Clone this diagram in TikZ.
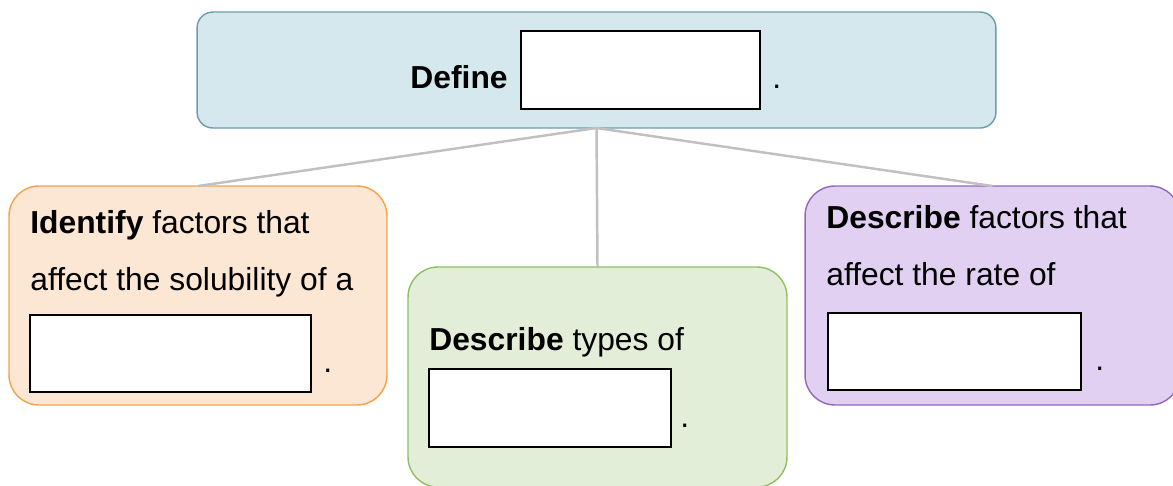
\documentclass[tikz,border=0pt]{standalone}
\usepackage{fontspec}
\setmainfont{Liberation Sans}
\definecolor{bluefill}{HTML}{D4E8EE}
\definecolor{blueline}{HTML}{6A9DAB}
\definecolor{peachfill}{HTML}{FCE6D4}
\definecolor{peachline}{HTML}{F4A14A}
\definecolor{greenfill}{HTML}{E3EED9}
\definecolor{greenline}{HTML}{8DC060}
\definecolor{lilacfill}{HTML}{E1D0F1}
\definecolor{lilacline}{HTML}{9467BD}
\definecolor{linkgray}{HTML}{C0C0C0}
\begin{document}
\begin{tikzpicture}[
    x=0.02cm, y=-0.02cm,
    font=\fontsize{18.1}{21.5}\selectfont
]
	\tikzset{
	    topic/.style = {rectangle, inner sep=0pt, outer sep=0pt, line width=0.8pt},
	    topicb/.style = {topic, rounded corners=9pt, draw=blueline, fill=bluefill},
	    topico/.style = {topic, rounded corners=17pt, draw=peachline, fill=peachfill},
	    topicg/.style = {topic, rounded corners=17pt, draw=greenline, fill=greenfill},
	    topicp/.style = {topic, rounded corners=17pt, draw=lilacline, fill=lilacfill},
	    blank/.style = {rectangle, inner sep=0pt, draw=black, fill=white, line width=1.2pt},
	    txt/.style = {inner sep=0pt, anchor=base west},
	    link/.style = {draw=linkgray, line width=1.4pt}
	}
	\useasboundingbox (0,0) rectangle (1173,485);
	% boxes
	\node[topicb, minimum width=15.98cm, minimum height=2.32cm] at (596.5,70) (define) {};
	\node[topico, minimum width=7.56cm, minimum height=4.38cm] at (198,295.5) (ident) {};
	\node[topicg, minimum width=7.58cm, minimum height=4.40cm] at (597.5,377) (types) {};
	\node[topicp, minimum width=7.50cm, minimum height=4.38cm] at (992.5,295.5) (rate) {};
	% links
	\draw[link] (define.south) -- (ident.north);
	\draw[link] (define.south) -- (types.north);
	\draw[link] (define.south) -- (rate.north);
	% top
	\node[txt, anchor=base east] at (508,88) (definet) {\textbf{Define}};
	\node[blank, minimum width=4.78cm, minimum height=1.56cm] at (640.5,70) (defineb) {};
	\node[txt] at (772,88) (defined) {.};
	% left
	\node[txt] at (30,233) (ident1) {\textbf{Identify} factors that};
	\node[txt] at (30,290) (ident2) {affect the solubility of a};
	\node[blank, minimum width=5.62cm, minimum height=1.54cm] at (170.5,353.5) (identb) {};
	\node[txt] at (323,372) (identd) {.};
	% middle
	\node[txt] at (429,350) (types1) {\textbf{Describe} types of};
	\node[blank, minimum width=4.84cm, minimum height=1.56cm] at (550,408) (typesb) {};
	\node[txt] at (680,427) (typesd) {.};
	% right
	\node[txt] at (826,228) (rate1) {\textbf{Describe} factors that};
	\node[txt] at (826,285) (rate2) {affect the rate of};
	\node[blank, minimum width=5.06cm, minimum height=1.54cm] at (954.5,351.5) (rateb) {};
	\node[txt] at (1095,370) (rated) {.};
\end{tikzpicture}
\end{document}
